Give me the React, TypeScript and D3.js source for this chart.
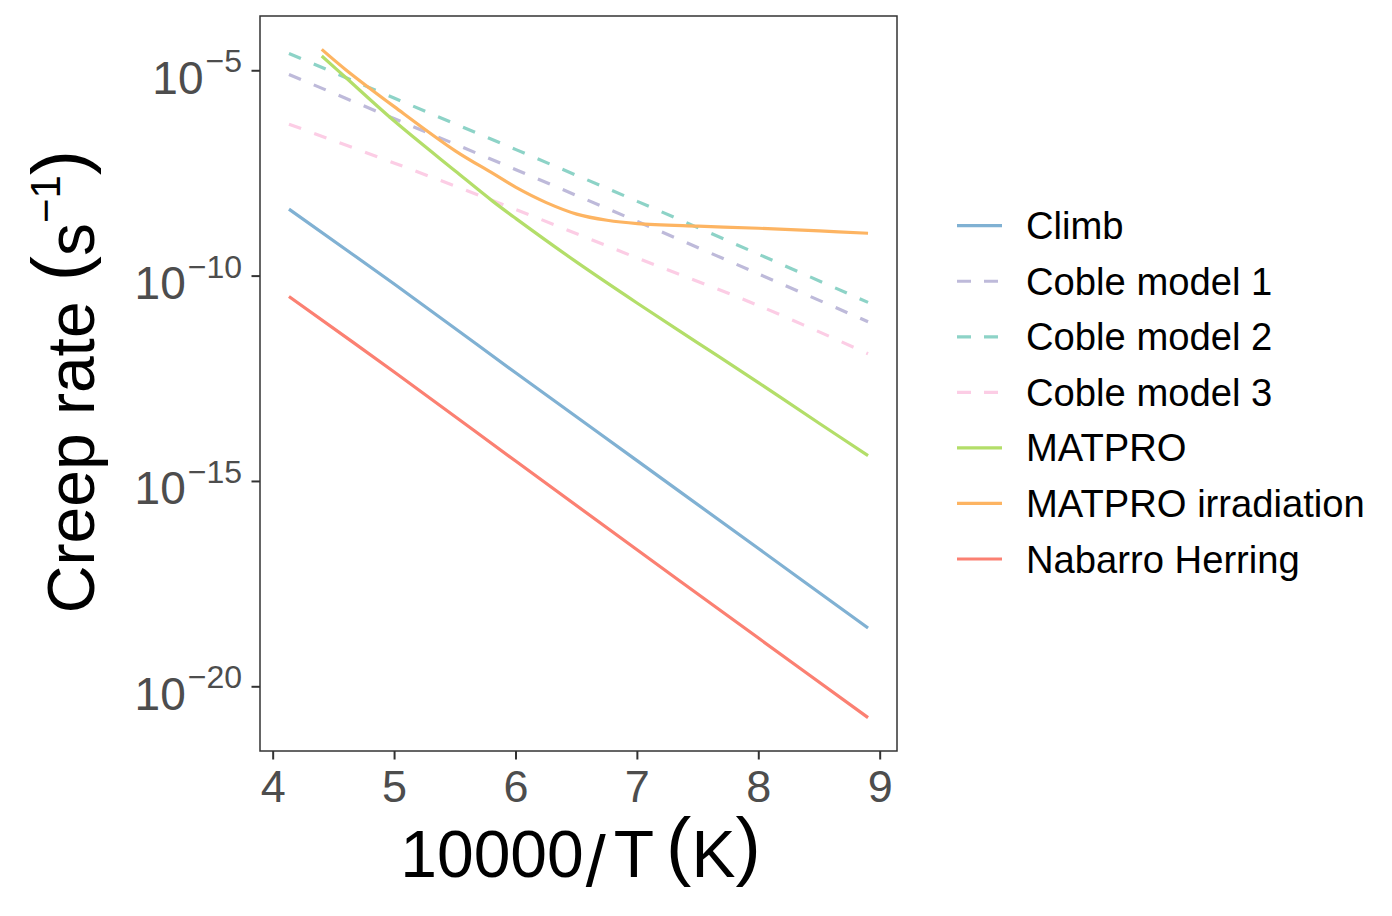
import React from 'react';
import * as d3 from 'd3';

// ---------- data (log10 of creep rate) ----------
const seriesNames = ['Climb', 'Coble model 1', 'Coble model 2', 'Coble model 3', 'MATPRO', 'MATPRO irradiation', 'Nabarro Herring'];
const seriesColors = ['#80B1D3', '#BEBADA', '#8DD3C7', '#FCCDE5', '#B3DE69', '#FDB462', '#FB8072'];
const seriesDashed = [false, true, true, true, false, false, false];

const baseX = [4.13, 5, 6, 7, 8, 8.9];
const climbLog = [-8.37, -10.2, -12.36, -14.5, -16.64, -18.57];
const coble1Log = [-5.09, -6.17, -7.41, -8.67, -9.95, -11.11];
const coble2Log = [-4.58, -5.67, -6.92, -8.18, -9.47, -10.64];
const coble3Log = [-6.3, -7.25, -8.38, -9.56, -10.72, -11.89];
const nabarroLog = [-10.495, -12.34, -14.51, -16.67, -18.82, -20.75];

const matproX = [4.4, 4.6, 5, 5.5, 5.81, 6, 6.5, 7, 7.5, 8, 8.5, 8.9];
const matproLog = [-4.64, -5.17, -6.23, -7.44, -8.18, -8.6, -9.66, -10.66, -11.63, -12.6, -13.59, -14.37];

const irrX = [4.4, 4.6, 5, 5.5, 5.81, 6, 6.25, 6.5, 6.75, 7, 7.5, 8, 8.5, 8.9];
const irrLog = [-4.48, -4.98, -5.88, -6.95, -7.5, -7.84, -8.21, -8.49, -8.64, -8.72, -8.785, -8.835, -8.9, -8.956];

const xTicks = [4, 5, 6, 7, 8, 9];
const yTickExps = [-5, -10, -15, -20];

const seriesX = [baseX, baseX, baseX, baseX, matproX, irrX, baseX];
const seriesLog = [climbLog, coble1Log, coble2Log, coble3Log, matproLog, irrLog, nabarroLog];

// ---------- layout ----------
const W = 1392;
const H = 916;
const panel = { left: 260, right: 897, top: 16, bottom: 751 };
const FONT = '"Liberation Sans", Arial, Helvetica, sans-serif';

export default function App() {
  const allX = seriesX.flat();
  const allLog = seriesLog.flat();
  const xMin = d3.min(allX)!, xMax = d3.max(allX)!;
  const yMin = d3.min(allLog)!, yMax = d3.max(allLog)!;
  const xPad = (xMax - xMin) * 0.05;
  const yPad = (yMax - yMin) * 0.05;

  const x = d3.scaleLinear().domain([xMin - xPad, xMax + xPad]).range([panel.left, panel.right]);
  const y = d3.scaleLog().domain([Math.pow(10, yMin - yPad), Math.pow(10, yMax + yPad)]).range([panel.bottom, panel.top]);

  const line = d3
    .line<[number, number]>()
    .x((d) => x(d[0]))
    .y((d) => y(Math.pow(10, d[1])))
    .curve(d3.curveCatmullRom.alpha(0.5));

  const legendX = 957;
  const legendY0 = 225.7;
  const legendStep = 55.55;

  return (
    <svg
      width={W}
      height={H}
      style={{ position: 'absolute', left: 0, top: 0, background: '#fff' }}
      fontFamily={FONT}
    >
      <rect x={0} y={0} width={W} height={H} fill="#fff" />
      <defs>
        <clipPath id="pclip">
          <rect x={panel.left} y={panel.top} width={panel.right - panel.left} height={panel.bottom - panel.top} />
        </clipPath>
      </defs>

      {/* series */}
      <g clipPath="url(#pclip)">
        {seriesNames.map((name, i) => {
          const pts: [number, number][] = seriesX[i].map((xv, j) => [xv, seriesLog[i][j]]);
          return (
            <path
              key={name}
              d={line(pts) || ''}
              fill="none"
              stroke={seriesColors[i]}
              strokeWidth={3.2}
              strokeDasharray={seriesDashed[i] ? '13 14' : undefined}
            />
          );
        })}
      </g>

      {/* panel border */}
      <rect
        x={panel.left}
        y={panel.top}
        width={panel.right - panel.left}
        height={panel.bottom - panel.top}
        fill="none"
        stroke="#333333"
        strokeWidth={1.5}
      />

      {/* x axis */}
      {xTicks.map((t) => (
        <g key={'x' + t}>
          <line x1={x(t)} x2={x(t)} y1={panel.bottom} y2={panel.bottom + 8.5} stroke="#333333" strokeWidth={2} />
          <text x={x(t)} y={802} textAnchor="middle" fontSize={45} fill="#4D4D4D">
            {t}
          </text>
        </g>
      ))}

      {/* y axis */}
      {yTickExps.map((e) => {
        const yy = y(Math.pow(10, e));
        return (
          <g key={'y' + e}>
            <line x1={panel.left - 8.5} x2={panel.left} y1={yy} y2={yy} stroke="#333333" strokeWidth={2} />
            <text x={242} y={yy + 23} textAnchor="end" fontSize={46} fill="#4D4D4D">
              <tspan>10</tspan>
              <tspan fontSize={32} dx={2} dy={-21.6}>
                {'\u2212' + Math.abs(e)}
              </tspan>
            </text>
          </g>
        );
      })}

      {/* x title */}
      <text x={(panel.left + panel.right) / 2 + 2} y={877} textAnchor="middle" fontSize={66} fill="#000">
        <tspan>10000</tspan>
        <tspan dx={2} fontSize={72} dy={9}>
          /
        </tspan>
        <tspan dx={8} dy={-9}>
          T
        </tspan>
        <tspan dx={12} fontSize={76} dy={-6}>
          (
        </tspan>
        <tspan dy={6}>K</tspan>
        <tspan fontSize={76} dy={-6}>
          )
        </tspan>
      </text>

      {/* y title */}
      <text
        transform={`translate(94, ${(panel.top + panel.bottom) / 2 - 2}) rotate(-90)`}
        textAnchor="middle"
        fontSize={66}
        fill="#000"
      >
        <tspan>Creep rate</tspan>
        <tspan dx={20} fontSize={76} dy={-9}>
          (
        </tspan>
        <tspan dy={9}>s</tspan>
        <tspan fontSize={42} dy={-34}>
          {'\u22121'}
        </tspan>
        <tspan fontSize={76} dy={25}>
          )
        </tspan>
      </text>

      {/* legend */}
      {seriesNames.map((name, i) => {
        const cy = legendY0 + i * legendStep;
        return (
          <g key={'lg' + name}>
            <line
              x1={legendX}
              x2={legendX + 45}
              y1={cy}
              y2={cy}
              stroke={seriesColors[i]}
              strokeWidth={3.2}
              strokeDasharray={seriesDashed[i] ? '14 13' : undefined}
            />
            <text x={1026} y={cy + 13.5} fontSize={38.2} fill="#000">
              {name}
            </text>
          </g>
        );
      })}
    </svg>
  );
}
